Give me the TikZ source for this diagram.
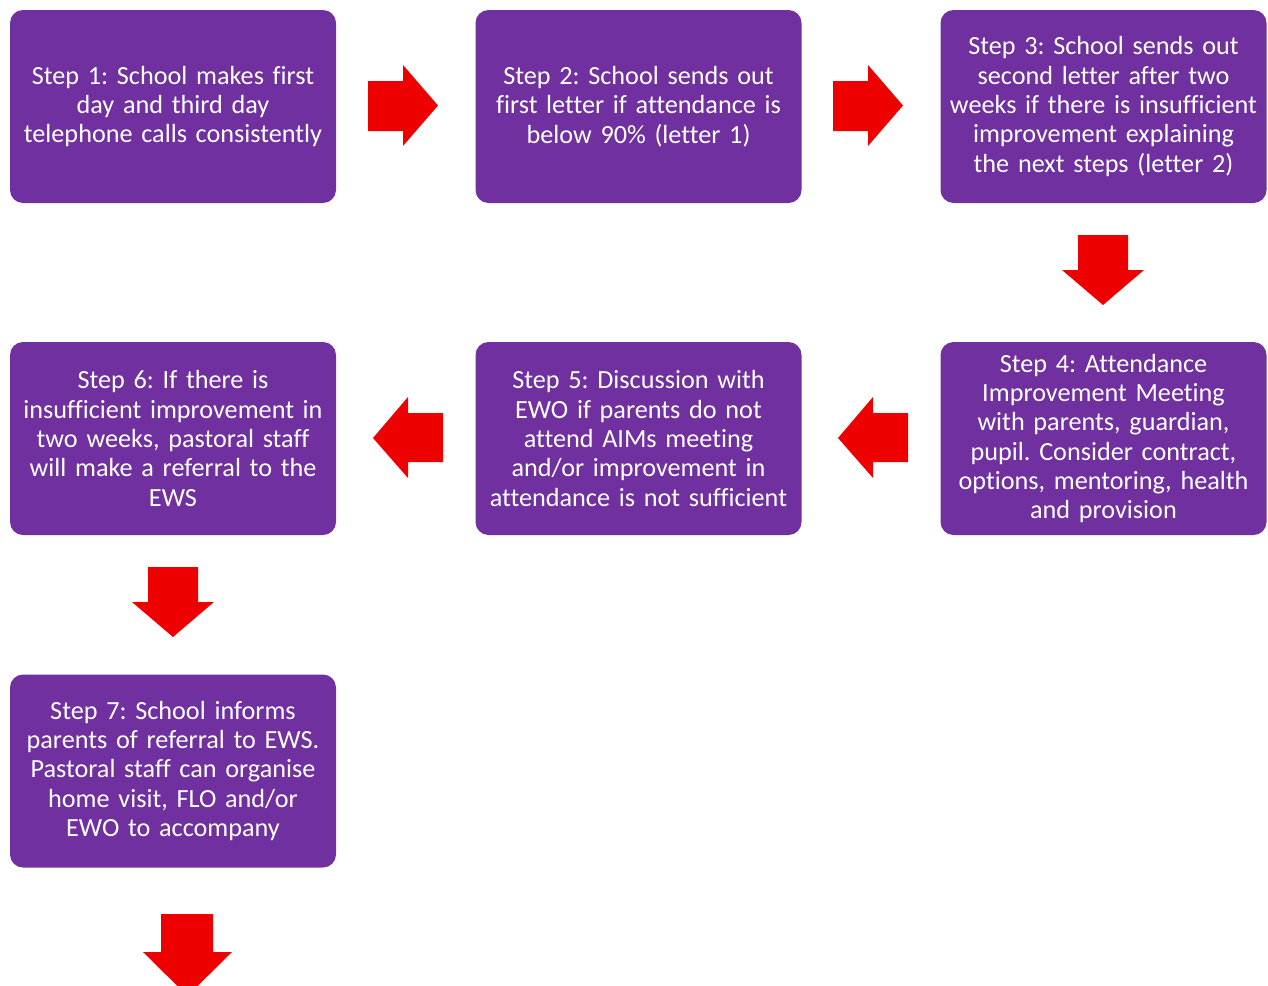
\documentclass[tikz,border=0pt]{standalone}
\usepackage{fontspec}
\setmainfont{Carlito}[Ligatures={NoCommon}]
\definecolor{boxpurple}{HTML}{7030A0}
\definecolor{arrowred}{HTML}{EE0000}
\begin{document}
\frenchspacing
\begin{tikzpicture}[x=0.5pt,y=-0.5pt,
  stepbox/.style={draw=none,fill=boxpurple,rounded corners=6.5pt,text=white,
    minimum width=163pt,minimum height=96.5pt,text width=162pt,align=center,
    inner sep=0pt,font=\fontsize{13.1}{14.65}\selectfont\frenchspacing},
  blockarrow/.style={fill=arrowred,draw=none}]
\useasboundingbox (0,0) rectangle (1268,985);
\node[stepbox] (s1) at (173,106.5) {Step 1: School makes first\\day and third day\\telephone calls consistently};
\node[stepbox] (s2) at (638.5,106.5) {Step 2: School sends out\\first letter if attendance is\\below 90\% (letter 1)};
\node[stepbox] (s3) at (1103.5,106.5) {Step 3: School sends out\\second letter after two\\weeks if there is insufficient\\improvement explaining\\the next steps (letter 2)};
\node[stepbox] (s4) at (1103.5,438.5) {Step 4: Attendance\\Improvement Meeting\\with parents, guardian,\\pupil. Consider contract,\\options, mentoring, health\\and provision};
\node[stepbox] (s5) at (638.5,438.5) {Step 5: Discussion with\\EWO if parents do not\\attend AIMs meeting\\and/or improvement in\\attendance is not sufficient};
\node[stepbox] (s6) at (173,438.5) {Step 6: If there is\\insufficient improvement in\\two weeks, pastoral staff\\will make a referral to the\\EWS};
\node[stepbox] (s7) at (173,771) {Step 7: School informs\\parents of referral to EWS.\\Pastoral staff can organise\\home visit, FLO and/or\\EWO to accompany};
% right arrows
\fill[blockarrow] (368,81) -- (403,81) -- (403,65) -- (438,105.5) -- (403,146) -- (403,131) -- (368,131) -- cycle;
\fill[blockarrow] (833,81) -- (868,81) -- (868,65) -- (903,105.5) -- (868,146) -- (868,131) -- (833,131) -- cycle;
% down arrow s3 -> s4
\fill[blockarrow] (1078,235) -- (1128,235) -- (1128,270) -- (1144,270) -- (1103,305) -- (1062,270) -- (1078,270) -- cycle;
% left arrows
\fill[blockarrow] (908,413) -- (873,413) -- (873,397) -- (838,438) -- (873,478) -- (873,462) -- (908,462) -- cycle;
\fill[blockarrow] (443,413) -- (408,413) -- (408,397) -- (373,438) -- (408,478) -- (408,462) -- (443,462) -- cycle;
% down arrow s6 -> s7
\fill[blockarrow] (148,567) -- (198,567) -- (198,602) -- (214,602) -- (173,637) -- (132,602) -- (148,602) -- cycle;
% bottom arrow
\fill[blockarrow] (161,914) -- (213,914) -- (213,952) -- (232,952) -- (187.5,996) -- (143,952) -- (161,952) -- cycle;
\end{tikzpicture}
\end{document}
